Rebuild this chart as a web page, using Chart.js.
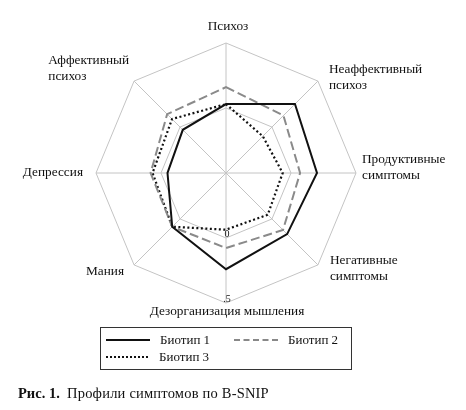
<!DOCTYPE html>
<html lang="ru">
<head>
<meta charset="utf-8">
<script src="https://cdn.jsdelivr.net/npm/chart.js@4/dist/chart.umd.min.js"></script>
<style>
  html, body { margin: 0; padding: 0; background: #fff; }
  body { width: 466px; height: 410px; position: relative; overflow: hidden; font-family: "Liberation Serif", "Times New Roman", serif; color: #111; }
  #wrap { position: absolute; left: 0; top: 0; width: 466px; height: 410px; }
  .legend { position: absolute; left: 100px; top: 327px; width: 250px; height: 41px; border: 1px solid #333; font-size: 13px; }
  .legend .item { position: absolute; display: flex; align-items: center; }
  .legend .swatch { display: inline-block; margin-right: 10px; }
  .caption { position: absolute; left: 18px; top: 385px; font-size: 14.5px; white-space: nowrap; }
  .caption span { letter-spacing: 0.2px; }
</style>
</head>
<body>
<div id="wrap"><canvas id="chart"></canvas></div>

<div class="legend">
  <div class="item" style="left:5px; top:4px;"><span class="swatch" style="width:44px; border-top:2px solid #111;"></span>Биотип 1</div>
  <div class="item" style="left:133px; top:4px;"><span class="swatch" style="width:44px; border-top:2px dashed #888;"></span>Биотип 2</div>
  <div class="item" style="left:5px; top:21px;"><span class="swatch" style="width:42px; border-top:2px dotted #111; margin-right:11px;"></span>Биотип 3</div>
</div>

<div class="caption"><b>Рис. 1.</b>&nbsp; <span>Профили симптомов по B-SNIP</span></div>

<script>
// Symptom axes, clockwise from the top
const axes = [
  ["Психоз"],
  ["Неаффективный", "психоз"],
  ["Продуктивные", "симптомы"],
  ["Негативные", "симптомы"],
  ["Дезорганизация мышления"],
  ["Мания"],
  ["Депрессия"],
  ["Аффективный", "психоз"]
];

const biotype1 = [0.03, 0.25, 0.2, 0.165, 0.24, 0.085, -0.05, -0.03];
const biotype2 = [0.16, 0.125, 0.07, 0.12, 0.077, 0.085, 0.08, 0.14];
const biotype3 = [0.03, -0.1, -0.064, -0.046, -0.064, 0.085, 0.065, 0.087];

const tickValues = [0, 0.5];
const tickText = ["0", ".5"];

// where each axis label sits relative to its outer vertex
const labelPlace = [
  { dx: 2, dy: -16, align: "center" },
  { dx: 11, dy: -4, align: "left" },
  { dx: 6, dy: -5, align: "left" },
  { dx: 12, dy: 4, align: "left" },
  { dx: 1, dy: 9, align: "center" },
  { dx: -10, dy: 7, align: "right" },
  { dx: -13, dy: 0, align: "right" },
  { dx: -5, dy: -13, align: "block-right" }
];

const axisLabels = {
  id: "axisLabels",
  afterDraw(chart) {
    const ctx = chart.ctx;
    const r = chart.scales.r;
    ctx.save();
    ctx.fillStyle = "#111";
    ctx.textBaseline = "middle";
    ctx.font = "13.3px 'Liberation Serif', serif";
    const lh = 16;
    axes.forEach((lines, i) => {
      const p = r.getPointPosition(i, r.drawingArea);
      const pl = labelPlace[i];
      const x = p.x + pl.dx;
      const y0 = p.y + pl.dy - (lines.length - 1) * lh / 2;
      let left = x;
      if (pl.align === "block-right") {
        const w = Math.max(...lines.map(l => ctx.measureText(l).width));
        left = x - w;
        ctx.textAlign = "left";
      } else {
        ctx.textAlign = pl.align;
      }
      lines.forEach((l, k) => ctx.fillText(l, left, y0 + k * lh));
    });

    // radial tick labels along the bottom axis
    ctx.font = "10px 'Liberation Serif', serif";
    ctx.textAlign = "center";
    tickValues.forEach((v, k) => {
      const d = r.getDistanceFromCenterForValue(v);
      ctx.fillText(tickText[k], r.xCenter + 1, r.yCenter + d - 4);
    });
    ctx.restore();
  }
};

new Chart(document.getElementById("chart"), {
  type: "radar",
  data: {
    labels: axes.map(a => a.join(" ")),
    datasets: [
      { label: "Биотип 1", data: biotype1, borderColor: "#111", borderWidth: 2, fill: false, pointRadius: 0 },
      { label: "Биотип 2", data: biotype2, borderColor: "#8a8a8a", borderWidth: 2, borderDash: [9, 4], fill: false, pointRadius: 0 },
      { label: "Биотип 3", data: biotype3, borderColor: "#111", borderWidth: 2.2, borderDash: [2, 2.5], fill: false, pointRadius: 0 }
    ]
  },
  options: {
    responsive: true,
    maintainAspectRatio: false,
    animation: false,
    layout: { padding: { left: 96, right: 110, top: 43, bottom: 107 } },
    plugins: { legend: { display: false }, tooltip: { enabled: false } },
    elements: { line: { tension: 0 } },
    scales: {
      r: {
        min: -0.5,
        max: 0.5,
        ticks: { stepSize: 0.5, display: false },
        grid: { color: "#c4c4c4", lineWidth: 1 },
        angleLines: { color: "#c4c4c4", lineWidth: 1 },
        pointLabels: { display: false }
      }
    }
  },
  plugins: [axisLabels]
});
</script>
</body>
</html>
